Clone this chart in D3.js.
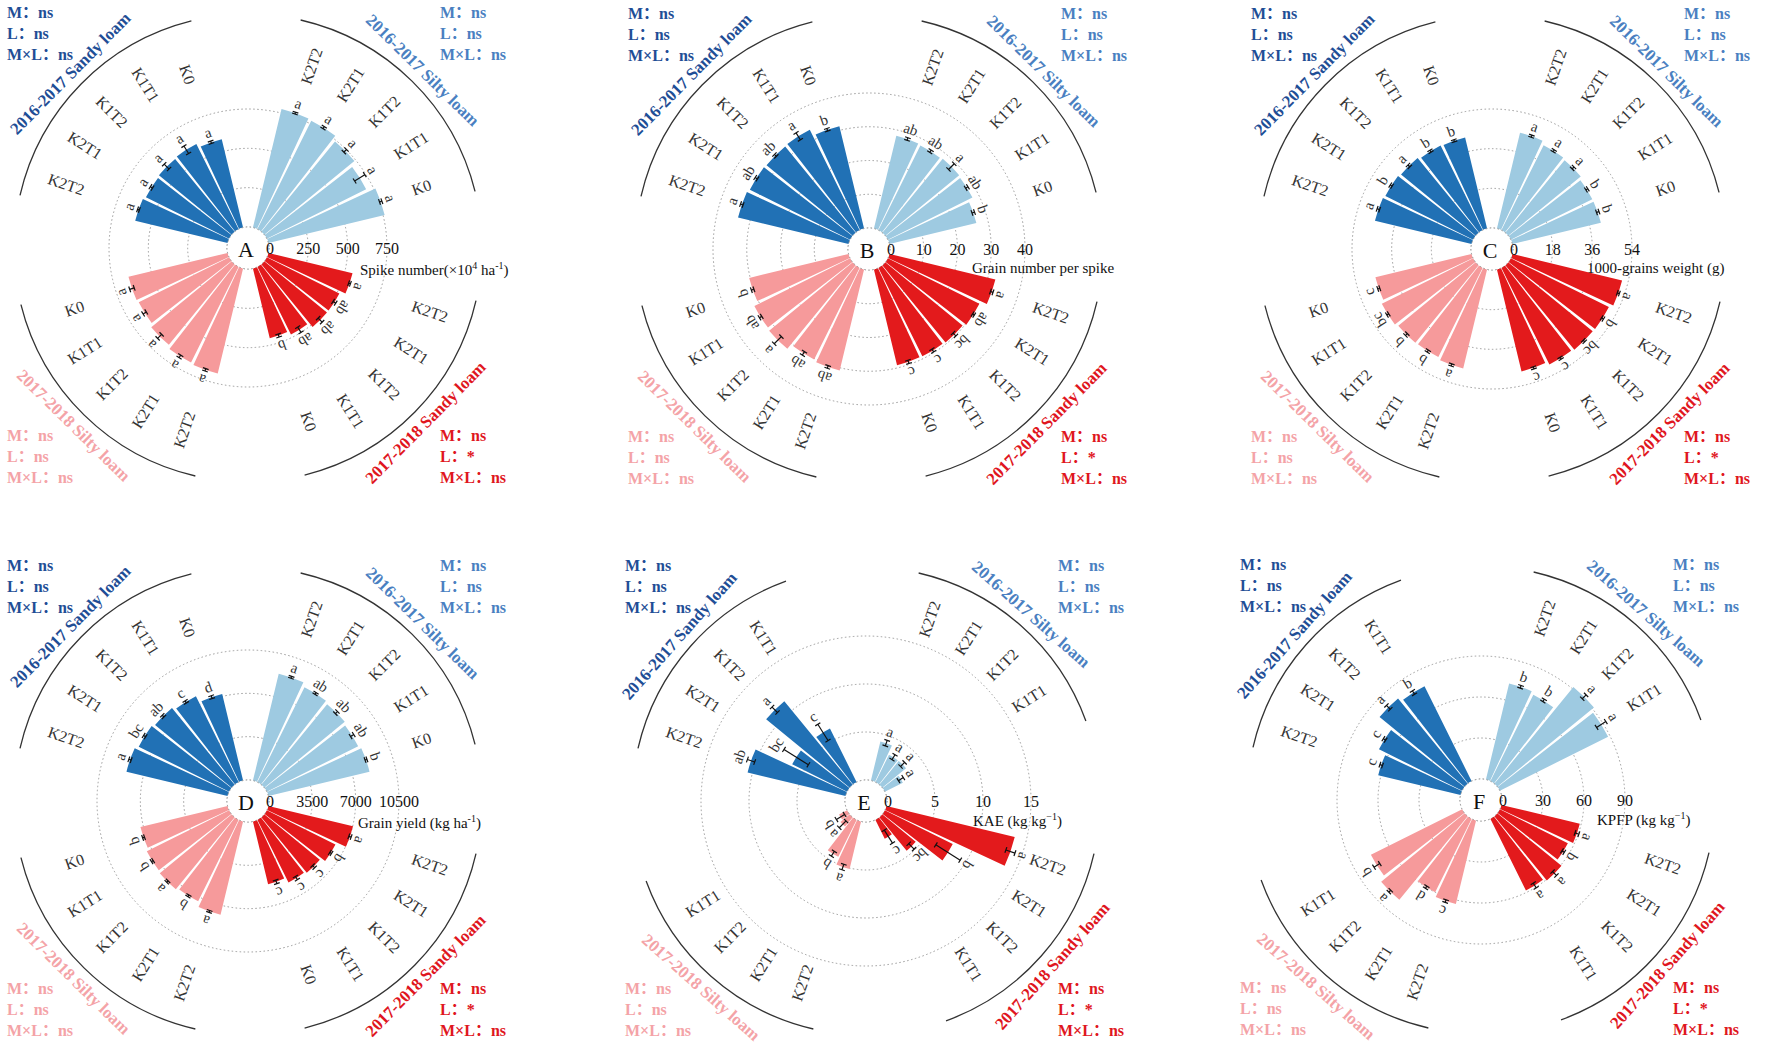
<!DOCTYPE html>
<html>
<head>
<meta charset="utf-8">
<script src="https://cdn.jsdelivr.net/npm/d3@7"></script>
<style>
  body { margin: 0; background: #fff; }
  text { font-family: "Liberation Serif", "Times New Roman", serif; }
  text.stat { font-family: "Liberation Serif", "Noto Sans CJK SC", serif; }
</style>
</head>
<body>
<svg id="chart" width="1772" height="1054"></svg>
<script>
const width = 1772;
const height = 1054;

// categories, clockwise inside every quarter
const treatments = ["K2T2", "K2T1", "K1T2", "K1T1", "K0"];
// quarters, clockwise from 12 o'clock
const sites = ["2016-2017 Silty loam", "2017-2018 Sandy loam", "2017-2018 Silty loam", "2016-2017 Sandy loam"];
const statLines = [
    ["M\uFF1Ans", "L\uFF1Ans", "M\u00D7L\uFF1Ans"],
    ["M\uFF1Ans", "L\uFF1A*", "M\u00D7L\uFF1Ans"],
    ["M\uFF1Ans", "L\uFF1Ans", "M\u00D7L\uFF1Ans"],
    ["M\uFF1Ans", "L\uFF1Ans", "M\u00D7L\uFF1Ans"]
];

// A - spike number
const spikeValues = [[775, 770, 740, 705, 760], [550, 515, 515, 480, 456], [687, 680, 661, 642, 648], [604, 591, 598, 604, 578]];
const spikeErrors = [[6, 8, 12, 38, 8], [6, 10, 18, 20, 10], [8, 10, 18, 12, 15], [6, 8, 22, 28, 8]];
const spikeLetters = [["a", "a", "a", "a", "a"], ["a", "ab", "ab", "ab", "b"], ["a", "a", "a", "a", "a"], ["a", "a", "a", "a", "a"]];
const spikeTicks = [0, 250, 500, 750];

// B - grain number per spike
const grainNumValues = [[28.3, 28, 28.3, 28, 26.5], [32.3, 30.3, 29.6, 29.3, 29.2], [30.8, 30.3, 32, 31.7, 30.3], [33.7, 33.2, 33, 33.2, 31.2]];
const grainNumErrors = [[0.4, 0.4, 1.2, 0.4, 0.4], [0.4, 0.3, 0.6, 0.5, 0.5], [0.4, 0.6, 1.5, 0.4, 0.4], [0.4, 0.4, 0.4, 1.2, 0.4]];
const grainNumLetters = [["ab", "ab", "a", "ab", "b"], ["a", "ab", "bc", "c", "c"], ["ab", "ab", "a", "ab", "b"], ["a", "ab", "ab", "a", "b"]];
const grainNumTicks = [0, 10, 20, 30, 40];

// C - 1000-grains weight
const weightValues = [[44.7, 43.1, 42.5, 41.3, 41.3], [51.2, 49.7, 49.5, 49, 47.6], [46.2, 45.2, 45.4, 46.3, 44.9], [45.1, 44.5, 43.8, 42.9, 42.5]];
const weightErrors = [[0.5, 0.5, 0.6, 0.5, 0.6], [0.5, 0.5, 0.5, 0.5, 0.5], [0.5, 0.5, 0.6, 0.5, 0.5], [0.6, 0.5, 0.6, 0.5, 0.5]];
const weightLetters = [["a", "a", "a", "b", "b"], ["a", "b", "bc", "c", "c"], ["a", "b", "b", "bc", "c"], ["a", "b", "a", "b", "b"]];
const weightTicks = [0, 18, 36, 54];

// D - grain yield
const yieldValues = [[8885, 8560, 8400, 8240, 8400], [7030, 6190, 5800, 5655, 5220], [7755, 7350, 7510, 7430, 7240], [8400, 8160, 8000, 7755, 7190]];
const yieldErrors = [[80, 80, 120, 150, 80], [100, 80, 120, 150, 150], [80, 80, 80, 80, 80], [100, 100, 100, 100, 120]];
const yieldLetters = [["a", "ab", "ab", "ab", "b"], ["a", "b", "c", "c", "c"], ["a", "b", "a", "b", "b"], ["a", "bc", "ab", "c", "d"]];
const yieldTicks = [0, 3500, 7000, 10500];

// E - KAE (no K0)
const kaeValues = [[4.2, 3.2, 3.2, 2.1, null], [13.75, 7.9, 4.5, 2.2, null], [5.1, 4.3, 1.25, 0.95, null], [10.5, 6.4, 11.25, 6.25, null]];
const kaeErrors = [[0.3, 0.3, 0.3, 0.3, 0], [0.5, 1.5, 0.4, 0.8, 0], [0.3, 0.3, 0.5, 0.5, 0], [0.4, 1.5, 0.4, 1.0, 0]];
const kaeLetters = [["a", "a", "a", "a", ""], ["a", "b", "bc", "c", ""], ["a", "b", "a", "b", ""], ["ab", "bc", "a", "c", ""]];
const kaeTicks = [0, 5, 10, 15];

// F - KPFP (no K0)
const kpfpValues = [[72.4, 70.7, 91.4, 88.5, null], [59, 55.6, 60.7, 58.5, null], [63, 60, 79, 74.6, null], [62, 68, 80.5, 77.5, null]];
const kpfpErrors = [[1, 1, 2, 4, 0], [1.5, 1, 2, 2, 0], [1, 1, 1, 2.5, 0], [1, 1, 2, 1.5, 0]];
const kpfpLetters = [["b", "b", "a", "a", ""], ["a", "b", "a", "a", ""], ["c", "d", "a", "b", ""], ["c", "c", "a", "b", ""]];
const kpfpTicks = [0, 30, 60, 90];

const barColors = ["#9ecae1", "#e31a1c", "#f69a9b", "#2171b5"];
const siteTextColors = ["#4a7fc1", "#e0161e", "#f4a3a7", "#1f4e96"];

const panels = [
    { id: "A", cx: 248, cy: 248, ticks: spikeTicks, rMax: 139, values: spikeValues, errors: spikeErrors, letters: spikeLetters,
      title: [["Spike number(\u00D710", 0], ["4", 1], [" ha", 0], ["-1", 1], [")", 0]], tdx: 112, tdy: 27 },
    { id: "B", cx: 869, cy: 249, ticks: grainNumTicks, rMax: 156, values: grainNumValues, errors: grainNumErrors, letters: grainNumLetters,
      title: [["Grain number per spike", 0]], tdx: 103, tdy: 24 },
    { id: "C", cx: 1492, cy: 249, ticks: weightTicks, rMax: 140, values: weightValues, errors: weightErrors, letters: weightLetters,
      title: [["1000-grains weight (g)", 0]], tdx: 95, tdy: 24 },
    { id: "D", cx: 248, cy: 801, ticks: yieldTicks, rMax: 151, values: yieldValues, errors: yieldErrors, letters: yieldLetters,
      title: [["Grain yield (kg ha", 0], ["-1", 1], [")", 0]], tdx: 110, tdy: 27 },
    { id: "E", cx: 866, cy: 801, ticks: kaeTicks, rMax: 165, values: kaeValues, errors: kaeErrors, letters: kaeLetters,
      title: [["KAE (kg kg", 0], ["\u22121", 1], [")", 0]], tdx: 107, tdy: 25 },
    { id: "F", cx: 1481, cy: 800, ticks: kpfpTicks, rMax: 144, values: kpfpValues, errors: kpfpErrors, letters: kpfpLetters,
      title: [["KPFP (kg kg", 0], ["\u22121", 1], [")", 0]], tdx: 116, tdy: 25 }
];

const svg = d3.select("#chart");
svg.append("rect").attr("width", width).attr("height", height).attr("fill", "#fff");

const r0 = 21;
const labelR = 174;
const arcR = 234;
const siteTitleR = 249;

// 28 angular slots: 1 gap, 5 bars, 1 gap per quarter
const slot = d3.scaleBand()
    .domain(d3.range(28))
    .range([0, 2 * Math.PI])
    .paddingInner(0.11)
    .paddingOuter(0.055);
const bw = slot.bandwidth();
const deg = a => a * 180 / Math.PI;
const rad = a => a * Math.PI / 180;

// stats block offsets per quarter
const statPos = [[192, -230], [192, 193], [-241, 193], [-241, -230]];

panels.forEach(p => {
    const g = svg.append("g").attr("transform", `translate(${p.cx},${p.cy})`);
    const r = d3.scaleLinear().domain([0, p.ticks[p.ticks.length - 1]]).range([r0, p.rMax]);

    const bars = [];
    p.values.forEach((vals, gi) => {
        vals.forEach((v, ti) => {
            if (v === null) return;
            const s = gi * 7 + 1 + ti;
            bars.push({ gi, ti, v, e: p.errors[gi][ti], lab: p.letters[gi][ti],
                a0: slot(s), a1: slot(s) + bw, am: slot(s) + bw / 2 });
        });
    });
    const nBars = d3.max(p.values, vals => vals.filter(v => v !== null).length);

    // grid circles
    g.append("g").selectAll("circle")
        .data(p.ticks)
        .join("circle")
        .attr("r", d => r(d))
        .attr("fill", "none")
        .attr("stroke", "#9a9a9a")
        .attr("stroke-width", 1)
        .attr("stroke-dasharray", "1.5,2.5");

    // bars
    const arc = d3.arc()
        .innerRadius(r0)
        .outerRadius(d => r(d.v))
        .startAngle(d => d.a0)
        .endAngle(d => d.a1);

    g.append("g").selectAll("path")
        .data(bars)
        .join("path")
        .attr("d", arc)
        .attr("fill", d => barColors[d.gi]);

    // error bars
    const eb = g.append("g").attr("stroke", "#111").attr("stroke-width", 1.2);
    bars.forEach(d => {
        const ux = Math.sin(d.am), uy = -Math.cos(d.am);
        const px = Math.cos(d.am), py = Math.sin(d.am);
        const lo = r(d.v - d.e), hi = r(d.v + d.e);
        eb.append("line").attr("x1", ux * lo).attr("y1", uy * lo).attr("x2", ux * hi).attr("y2", uy * hi);
        [lo, hi].forEach(rr => {
            eb.append("line")
                .attr("x1", ux * rr - px * 3).attr("y1", uy * rr - py * 3)
                .attr("x2", ux * rr + px * 3).attr("y2", uy * rr + py * 3);
        });
    });

    // significance letters
    g.append("g").selectAll("text")
        .data(bars)
        .join("text")
        .attr("transform", d => {
            const rr = r(d.v + d.e) + 9;
            return `translate(${Math.sin(d.am) * rr},${-Math.cos(d.am) * rr}) rotate(${deg(d.am)})`;
        })
        .attr("text-anchor", "middle")
        .attr("dominant-baseline", "central")
        .attr("font-size", 15)
        .attr("fill", "#333")
        .text(d => d.lab);

    // center hole
    g.append("circle").attr("r", r0).attr("fill", "#fff")
        .attr("stroke", "#9a9a9a").attr("stroke-width", 1).attr("stroke-dasharray", "1.5,2.5");

    g.append("text")
        .attr("x", -2).attr("y", 1)
        .attr("text-anchor", "middle")
        .attr("dominant-baseline", "central")
        .attr("font-size", 22)
        .attr("fill", "#111")
        .text(p.id);

    // tick labels along the horizontal radius
    g.append("g").selectAll("text")
        .data(p.ticks)
        .join("text")
        .attr("x", d => r(d) + (d === 0 ? 1 : 0))
        .attr("y", 0)
        .attr("text-anchor", "middle")
        .attr("dominant-baseline", "central")
        .attr("font-size", 16)
        .attr("fill", "#111")
        .text(d => d);

    // axis title with superscripts
    const t = g.append("text")
        .attr("x", p.tdx).attr("y", p.tdy)
        .attr("font-size", 15)
        .attr("fill", "#111");
    let shift = 0;
    p.title.forEach(([txt, sup]) => {
        const target = sup ? -6 : 0;
        t.append("tspan")
            .attr("dy", target - shift)
            .attr("font-size", sup ? 10 : 15)
            .text(txt);
        shift = target;
    });

    // treatment labels
    g.append("g").selectAll("text")
        .data(bars)
        .join("text")
        .attr("transform", d => {
            const a = deg(d.am);
            const rot = a < 180 ? a - 90 : a + 90;
            return `translate(${Math.sin(d.am) * labelR},${-Math.cos(d.am) * labelR}) rotate(${rot})`;
        })
        .attr("text-anchor", d => deg(d.am) < 180 ? "start" : "end")
        .attr("dominant-baseline", "central")
        .attr("font-size", 16)
        .attr("fill", "#333")
        .text(d => treatments[d.ti]);

    // site arcs, titles and statistics
    const arcEnd = nBars === 5 ? 76 : 70;
    sites.forEach((site, gi) => {
        const s0 = rad(gi * 90 + 13), s1 = rad(gi * 90 + arcEnd);
        g.append("path")
            .attr("d", d3.arc()({ innerRadius: arcR, outerRadius: arcR, startAngle: s0, endAngle: s1 }))
            .attr("fill", "none")
            .attr("stroke", "#333")
            .attr("stroke-width", 1.3);

        const am = (s0 + s1) / 2;
        const a = deg(am);
        const rot = (a > 90 && a < 270) ? a - 180 : a;
        g.append("text")
            .attr("transform", `translate(${Math.sin(am) * siteTitleR},${-Math.cos(am) * siteTitleR}) rotate(${rot})`)
            .attr("text-anchor", "middle")
            .attr("dominant-baseline", "central")
            .attr("font-size", 17)
            .attr("font-weight", "bold")
            .attr("fill", siteTextColors[gi])
            .text(site);

        g.append("g").selectAll("text")
            .data(statLines[gi])
            .join("text")
            .attr("class", "stat")
            .attr("x", statPos[gi][0])
            .attr("y", (d, i) => statPos[gi][1] + i * 21)
            .attr("font-size", 16)
            .attr("font-weight", "bold")
            .attr("fill", siteTextColors[gi])
            .text(d => d);
    });
});
</script>
</body>
</html>
